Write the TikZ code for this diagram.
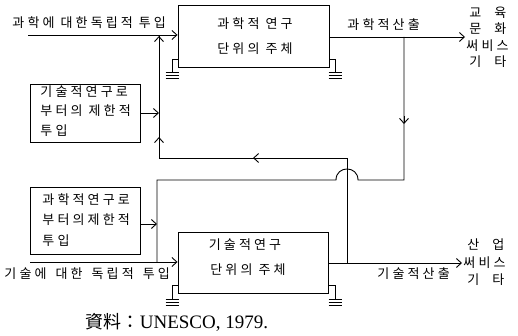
\documentclass[tikz,border=0pt]{standalone}
\usepackage{fontspec}
\setmainfont{Liberation Serif}
\newfontfamily\kr{Noto Sans CJK KR}[LetterSpace=24]
\newfontfamily\krc{Noto Sans CJK KR}
\usetikzlibrary{arrows.meta}
\tikzset{
  box/.style={draw, inner sep=0pt},
  lbl/.style={font=\kr\fontsize{13}{14}\selectfont, inner sep=0pt},
  arr/.style={-{Straight Barb[length=5pt,width=9pt]}},
  gnd/.pic={\draw (-6.5,0) -- (6.5,0) (-6.5,3) -- (6.5,3) (-6.5,6) -- (6.5,6);}
}
\begin{document}
\begin{tikzpicture}[x=1pt,y=-1pt,line width=0.9pt]
\useasboundingbox (0,0) rectangle (518,336);
% boxes
\node[box, minimum width=151pt, minimum height=62pt] (sci) at (253.5,36) {};
\node[box, minimum width=150pt, minimum height=61pt] (tech) at (253,262.5) {};
\node[box, minimum width=110pt, minimum height=58pt] (lt) at (85,113) {};
\node[box, minimum width=110pt, minimum height=67pt] (lb) at (85,220.5) {};
% box texts
\node[lbl] (sci1) at (255,24) {과학적 연구};
\node[lbl] (sci2) at (255,49) {단위의 주체};
\node[lbl] (tech1) at (245,245) {기술적연구};
\node[lbl] (tech2) at (248,270) {단위의 주체};
\node[lbl, anchor=west] (lt1) at (40,92) {기술적연구로};
\node[lbl, anchor=west] (lt2) at (40,111) {부터의 제한적};
\node[lbl, anchor=west] (lt3) at (40,131) {투입};
\node[lbl, anchor=west] (lb1) at (42,200) {과학적연구로};
\node[lbl, anchor=west] (lb2) at (42,220) {부터의제한적};
\node[lbl, anchor=west] (lb3) at (42,241) {투입};
% outer labels
\node[lbl, anchor=west] (inS) at (12,23) {과학에 대한독립적 투입};
\node[lbl, anchor=west] (inT) at (4,274) {기술에\hspace{3pt} 대한\hspace{3pt} 독립적\hspace{3pt} 투입};
\node[lbl, anchor=west] (outS) at (347,25) {과학적산출};
\node[lbl, anchor=west] (outT) at (377,274) {기술적산출};
\node[lbl, anchor=west] (r1) at (469,13) {교\hspace{13pt}육};
\node[lbl, anchor=west] (r2) at (469,29) {문\hspace{13pt}화};
\node[lbl, anchor=west] (r3) at (466,46) {써비스};
\node[lbl, anchor=west] (r4) at (469,62) {기\hspace{13pt}타};
\node[lbl, anchor=west] (r5) at (467,245) {산\hspace{13pt}업};
\node[lbl, anchor=west] (r6) at (463,263) {써비스};
\node[lbl, anchor=west] (r7) at (467,280) {기\hspace{13pt}타};
\node (cap) at (177,322) {{\krc\fontsize{18}{20}\selectfont 資料：}{\fontsize{19}{20}\selectfont UNESCO, 1979.}};
% coordinates
\coordinate (sin) at (28,35);
\coordinate (tin) at (30,262);
\coordinate (so) at (465,37);
\coordinate (tout) at (462,263);
\coordinate (j1) at (347,263);
\coordinate (k1) at (347,158);
\coordinate (k2) at (159,158);
\coordinate (k3) at (159,35);
\coordinate (j2) at (404,37);
\coordinate (m1) at (404,180);
\coordinate (m2) at (358,180);
\coordinate (m3) at (336,180);
\coordinate (m4) at (157,180);
\coordinate (j3) at (157,262);
\coordinate (a2) at (157,224);
\coordinate (t1a) at (260,158);
\coordinate (t1b) at (253,158);
\coordinate (t2a) at (159,145);
\coordinate (t2b) at (159,137);
\coordinate (t3a) at (159,45);
\coordinate (t3b) at (159,36);
\coordinate (t4a) at (404,116);
\coordinate (t4b) at (404,124);
% main inputs/outputs
\draw[arr] (sin) -- (sin -| sci.west);
\draw[arr] (tin) -- (tin -| tech.west);
\draw[arr] (sci.east |- so) -- (so);
\draw[arr] (tech.east |- tout) -- (tout);
% feedback: tech output -> science input
\draw (j1) -- (k1) -- (k2) -- (k3);
\draw[arr] (t1a) -- (t1b);
\draw[arr] (t2a) -- (t2b);
\draw[arr] (t3a) -- (t3b);
% feedback: science output -> tech input
\draw (j2) -- (m1) -- (m2) .. controls (358,165.3) and (336,165.3) .. (m3) -- (m4) -- (j3);
\draw[arr] (t4a) -- (t4b);
% limited inputs
\draw[arr] (lt.east) -- (lt.east -| k2);
\draw[arr] (lb.east |- a2) -- (a2);
% grounds
\draw (sci.west |- 0,59) -- (172,59) -- (172,72) pic {gnd};
\draw (sci.east |- 0,59) -- (335,59) -- (335,72) pic {gnd};
\draw (tech.west |- 0,285) -- (172,285) -- (172,299) pic {gnd};
\draw (tech.east |- 0,285) -- (335,285) -- (335,299) pic {gnd};
\end{tikzpicture}
\end{document}
